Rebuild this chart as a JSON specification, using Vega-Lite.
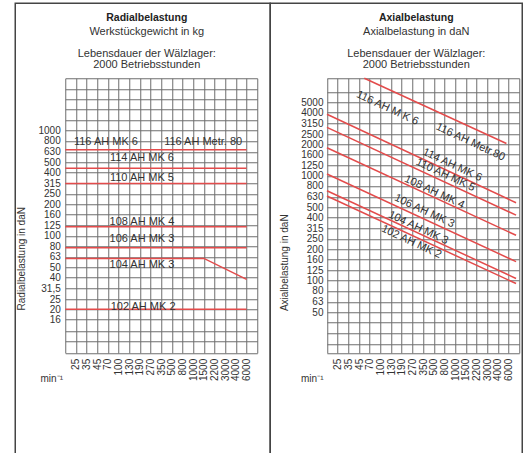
{
  "$schema": "https://vega.github.io/schema/vega-lite/v6.json",
  "padding": {"left": 14.25, "top": 2.25, "right": 0, "bottom": 0},
  "background": "white",
  "bounds": "flush",
  "spacing": 0,
  "datasets": {
    "radial_lines": [
      {"serie": "116", "stufe": 0, "last": 660}, {"serie": "116", "stufe": 17, "last": 660},
      {"serie": "114", "stufe": 0, "last": 440}, {"serie": "114", "stufe": 17, "last": 440},
      {"serie": "110", "stufe": 0, "last": 315}, {"serie": "110", "stufe": 17, "last": 315},
      {"serie": "108", "stufe": 0, "last": 122}, {"serie": "108", "stufe": 17, "last": 122},
      {"serie": "106", "stufe": 0, "last": 77}, {"serie": "106", "stufe": 17, "last": 77},
      {"serie": "104", "stufe": 0, "last": 61}, {"serie": "104", "stufe": 13, "last": 61}, {"serie": "104", "stufe": 17, "last": 38.6},
      {"serie": "102", "stufe": 0, "last": 20}, {"serie": "102", "stufe": 17, "last": 20}
    ],
    "radial_labels": [
      {"text": "116 AH MK 6", "stufe": 3.81, "last": 777},
      {"text": "116 AH Metr. 80", "stufe": 12.93, "last": 777},
      {"text": "114 AH MK 6", "stufe": 7.19, "last": 544},
      {"text": "110 AH MK 5", "stufe": 7.19, "last": 358},
      {"text": "108 AH MK 4", "stufe": 7.19, "last": 136},
      {"text": "106 AH MK 3", "stufe": 7.19, "last": 93},
      {"text": "104 AH MK 3", "stufe": 7.19, "last": 53},
      {"text": "102 AH MK 2", "stufe": 7.3, "last": 21.2}
    ],
    "axial_lines": [
      {"serie": "116", "stufe": 3.5, "last": 8500}, {"serie": "116", "stufe": 16.8, "last": 2030},
      {"serie": "114", "stufe": 0, "last": 3860}, {"serie": "114", "stufe": 17.7, "last": 553},
      {"serie": "110", "stufe": 0, "last": 2890}, {"serie": "110", "stufe": 17.7, "last": 422},
      {"serie": "108", "stufe": 0, "last": 1850}, {"serie": "108", "stufe": 17.7, "last": 271},
      {"serie": "106", "stufe": 0, "last": 1040}, {"serie": "106", "stufe": 17.7, "last": 152},
      {"serie": "104", "stufe": 0, "last": 720}, {"serie": "104", "stufe": 17.7, "last": 105},
      {"serie": "102", "stufe": 0, "last": 641}, {"serie": "102", "stufe": 17.7, "last": 94}
    ],
    "axial_labels": [
      {"text": "116 AH M K 6", "stufe": 5.65, "last": 4400},
      {"text": "116 AH Metr.80", "stufe": 13.43, "last": 2090},
      {"text": "114 AH MK 6", "stufe": 11.74, "last": 1264},
      {"text": "110 AH MK 5", "stufe": 11.09, "last": 1015},
      {"text": "108 AH MK 4", "stufe": 10.06, "last": 699},
      {"text": "106 AH MK 3", "stufe": 9.12, "last": 461},
      {"text": "104 AH MK 3", "stufe": 8.55, "last": 318},
      {"text": "102 AH MK 2", "stufe": 7.9, "last": 234}
    ]
  },
  "hconcat": [
    {
      "width": 255,
      "height": 460,
      "title": {
        "text": "Radialbelastung",
        "subtitle": ["Werkstückgewicht in kg", "\u200b", "Lebensdauer der Wälzlager:", "2000 Betriebsstunden"],
        "offset": -67, "dx": 4
      },
      "encoding": {
        "x": {
          "field": "stufe", "type": "quantitative",
          "scale": {"domain": [0, 18], "range": [50, 242], "nice": false, "zero": false},
          "axis": {
            "orient": "top",
            "values": [0,1,2,3,4,5,6,7,8,9,10,11,12,13,14,15,16,17,18],
            "labelExpr": "['', '25', '35', '45', '70', '100', '130', '190', '270', '350', '500', '800', '1000', '1500', '2200', '3000', '4000', '6000', ''][datum.value]",
            "labelAngle": -90, "labelAlign": "right", "labelBaseline": "middle",
            "offset": -349.7, "labelPadding": -5.3,
            "title": "min⁻¹", "titleX": 36, "titleY": 25.3, "titleBaseline": "middle", "titleAlign": "center", "titleAngle": 0
          }
        },
        "y": {
          "field": "last", "type": "quantitative",
          "scale": {"type": "log", "domain": [7.7, 3150], "range": [349.7, 75], "nice": false, "zero": false},
          "axis": {
            "values": [7.7, 10, 12.5, 16, 20, 25, 31.5, 40, 50, 63, 80, 100, 125, 160, 200, 250, 315, 400, 500, 630, 800, 1000, 1250, 1600, 2000, 2500, 3150],
            "labelExpr": "datum.value < 15 || datum.value > 1100 ? '' : datum.value == 31.5 ? '31,5' : format(datum.value, 'd')",
            "offset": -50, "labelPadding": 5,
            "title": "Radialbelastung in daN", "titleX": -43.5, "titleY": 255, "titleAngle": -90, "titleBaseline": "middle", "titleAlign": "center"
          }
        }
      },
      "layer": [
        {
          "data": {"name": "radial_lines"},
          "mark": {"type": "line", "color": "#e34b4b", "strokeWidth": 1.5, "clip": false},
          "encoding": {"detail": {"field": "serie", "type": "nominal"}}
        },
        {
          "data": {"name": "radial_labels"},
          "mark": {"type": "text", "font": "Liberation Sans", "fontSize": 11, "color": "#333", "align": "center", "baseline": "middle"},
          "encoding": {"text": {"field": "text", "type": "nominal"}}
        }
      ]
    },
    {
      "width": 252,
      "height": 460,
      "title": {
        "text": "Axialbelastung",
        "subtitle": ["Axialbelastung in daN", "\u200b", "Lebensdauer der Wälzlager:", "2000 Betriebsstunden"],
        "offset": -67, "dx": 20
      },
      "encoding": {
        "x": {
          "field": "stufe", "type": "quantitative",
          "scale": {"domain": [0, 18], "range": [56.7, 249], "nice": false, "zero": false},
          "axis": {
            "orient": "top",
            "values": [0,1,2,3,4,5,6,7,8,9,10,11,12,13,14,15,16,17,18],
            "labelExpr": "['', '25', '35', '45', '70', '100', '130', '190', '270', '350', '500', '800', '1000', '1500', '2200', '3000', '4000', '6000', ''][datum.value]",
            "labelAngle": -90, "labelAlign": "right", "labelBaseline": "middle",
            "offset": -349.7, "labelPadding": -5.3,
            "title": "min⁻¹", "titleX": 41.5, "titleY": 25.3, "titleBaseline": "middle", "titleAlign": "center", "titleAngle": 0
          }
        },
        "y": {
          "field": "last", "type": "quantitative",
          "scale": {"type": "log", "domain": [20.5, 8500], "range": [349.7, 75], "nice": false, "zero": false},
          "axis": {
            "values": [20.5, 25, 31.5, 40, 50, 63, 80, 100, 125, 160, 200, 250, 315, 400, 500, 630, 800, 1000, 1250, 1600, 2000, 2500, 3150, 4000, 5000, 6300, 8500],
            "labelExpr": "datum.value < 45 || datum.value > 5500 ? '' : format(datum.value, 'd')",
            "offset": -56.7, "labelPadding": 4,
            "title": "Axialbelastung in daN", "titleX": -42.7, "titleY": 259, "titleAngle": -90, "titleBaseline": "middle", "titleAlign": "center"
          }
        }
      },
      "layer": [
        {
          "data": {"name": "axial_lines"},
          "mark": {"type": "line", "color": "#e34b4b", "strokeWidth": 1.5, "clip": false},
          "encoding": {"detail": {"field": "serie", "type": "nominal"}}
        },
        {
          "data": {"name": "axial_labels"},
          "mark": {"type": "text", "font": "Liberation Sans", "fontSize": 11, "color": "#333", "align": "center", "baseline": "middle", "angle": 25},
          "encoding": {"text": {"field": "text", "type": "nominal"}}
        }
      ]
    }
  ],
  "config": {
    "view": {"stroke": "#444", "strokeWidth": 1.5},
    "axis": {
      "labelFont": "Liberation Sans", "labelFontSize": 10, "labelColor": "#333",
      "titleFont": "Liberation Sans", "titleFontSize": 10, "titleFontWeight": "normal", "titleColor": "#333",
      "grid": true, "gridColor": "#6e6e6e", "gridWidth": 1, "gridOpacity": 1,
      "domain": false, "ticks": false, "tickSize": 0,
      "labelOverlap": false, "labelFlush": false, "labelBound": false
    },
    "title": {
      "font": "Liberation Sans", "fontSize": 10.5, "fontWeight": "bold", "color": "#222",
      "subtitleFont": "Liberation Sans", "subtitleFontSize": 11, "subtitleColor": "#333",
      "subtitlePadding": 2, "subtitleLineHeight": 11.1, "anchor": "middle", "frame": "group"
    }
  }
}
